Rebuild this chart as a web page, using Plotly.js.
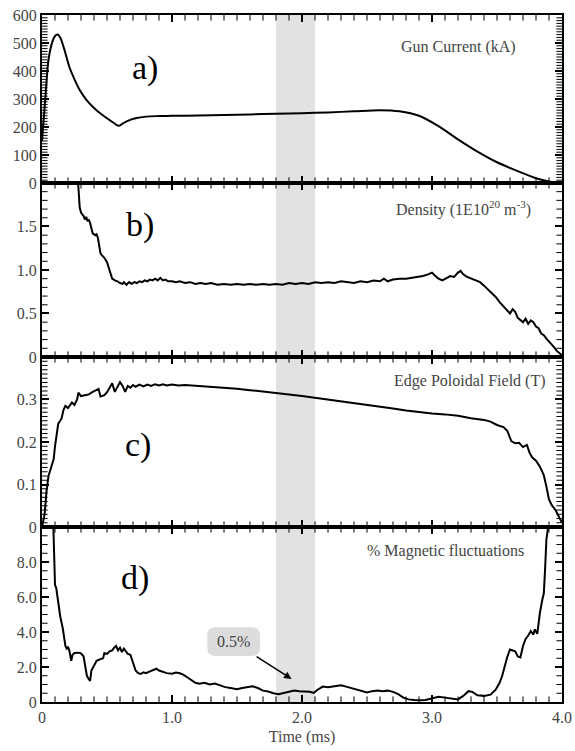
<!DOCTYPE html>
<html><head><meta charset="utf-8">
<script src="https://cdn.plot.ly/plotly-3.0.1.min.js"></script>
<style>html,body{margin:0;padding:0;background:#fff;}</style>
</head><body><div id="chart"></div>
<script>
// a) Gun current (kA)
const gunT = [0, 0.025, 0.05, 0.08, 0.10, 0.12, 0.14, 0.17, 0.21, 0.25, 0.29, 0.34, 0.40, 0.45, 0.50, 0.55, 0.59, 0.62, 0.66, 0.72, 0.80, 0.90, 1.0, 1.2, 1.4, 1.6, 1.8, 2.0, 2.2, 2.4, 2.6, 2.75, 2.9, 3.05, 3.2, 3.35, 3.5, 3.65, 3.8, 3.9, 3.97];
const gunI = [150, 300, 440, 505, 525, 530, 520, 480, 415, 370, 332, 298, 268, 248, 231, 215, 204, 212, 222, 231, 237, 239, 240, 241, 243, 245, 247, 249, 252, 256, 260, 256, 240, 203, 156, 112, 74, 44, 17, 5, 0];

// b) Density (1E10^20 m^-3)
const denT = [0.20,0.27,0.28,0.29,0.30,0.32,0.33,0.34,0.35,0.36,0.37,0.38,0.39,0.41,0.42,0.43,0.44,0.45,0.46,0.48,0.50,0.51,0.52,0.53,0.54,0.56,0.58,0.60,0.62,0.63,0.65,0.67,0.69,0.71,0.73,0.75,0.77,0.79,0.81,0.83,0.85,0.87,0.89,0.91,0.93,0.95,0.97,1.00,1.03,1.06,1.10,1.14,1.18,1.22,1.26,1.30,1.35,1.40,1.45,1.50,1.55,1.60,1.65,1.70,1.75,1.80,1.85,1.90,1.95,2.00,2.05,2.10,2.15,2.20,2.25,2.30,2.35,2.40,2.45,2.50,2.55,2.60,2.63,2.66,2.70,2.75,2.80,2.85,2.90,2.93,2.97,3.00,3.02,3.05,3.08,3.11,3.14,3.17,3.20,3.22,3.24,3.27,3.30,3.33,3.37,3.40,3.43,3.46,3.49,3.52,3.55,3.58,3.60,3.62,3.64,3.66,3.68,3.70,3.72,3.74,3.76,3.78,3.80,3.82,3.84,3.86,3.88,3.90,3.92,3.94,3.96,3.98,4.00];
const denV = [3.0,2.2,1.95,1.72,1.66,1.62,1.58,1.61,1.56,1.58,1.54,1.47,1.42,1.40,1.41,1.37,1.28,1.19,1.17,1.14,1.09,1.04,0.98,0.93,0.90,0.88,0.87,0.85,0.84,0.86,0.83,0.86,0.84,0.86,0.85,0.87,0.86,0.88,0.87,0.89,0.88,0.90,0.88,0.91,0.88,0.89,0.87,0.87,0.86,0.87,0.85,0.86,0.84,0.85,0.84,0.85,0.83,0.84,0.83,0.84,0.83,0.84,0.83,0.84,0.83,0.84,0.83,0.85,0.84,0.85,0.84,0.86,0.85,0.86,0.85,0.87,0.86,0.85,0.87,0.86,0.88,0.87,0.90,0.87,0.89,0.90,0.90,0.91,0.92,0.93,0.95,0.97,0.94,0.90,0.88,0.91,0.93,0.92,0.97,0.99,0.95,0.92,0.90,0.88,0.86,0.82,0.78,0.74,0.69,0.63,0.58,0.53,0.50,0.55,0.52,0.45,0.43,0.40,0.44,0.38,0.42,0.40,0.35,0.33,0.27,0.25,0.21,0.18,0.14,0.11,0.07,0.04,0.02];

// c) Edge Poloidal Field (T)
const bpT = [0.00,0.02,0.035,0.05,0.07,0.09,0.10,0.113,0.125,0.14,0.15,0.165,0.18,0.20,0.215,0.23,0.25,0.27,0.28,0.30,0.33,0.36,0.39,0.42,0.435,0.45,0.48,0.50,0.52,0.54,0.56,0.58,0.60,0.62,0.64,0.66,0.68,0.70,0.72,0.75,0.78,0.81,0.84,0.87,0.90,0.93,0.96,1.00,1.05,1.10,1.20,1.30,1.40,1.50,1.60,1.70,1.80,1.90,2.00,2.10,2.20,2.30,2.40,2.50,2.60,2.70,2.80,2.90,3.00,3.10,3.20,3.30,3.40,3.45,3.50,3.55,3.58,3.61,3.64,3.67,3.70,3.73,3.75,3.77,3.80,3.83,3.86,3.88,3.90,3.92,3.95,3.98,4.00];
const bpV = [0.0,0.03,0.085,0.12,0.14,0.16,0.19,0.215,0.243,0.25,0.255,0.275,0.285,0.28,0.288,0.293,0.287,0.30,0.316,0.308,0.31,0.312,0.318,0.322,0.325,0.307,0.31,0.317,0.328,0.338,0.318,0.33,0.341,0.332,0.318,0.332,0.328,0.334,0.330,0.335,0.331,0.335,0.332,0.336,0.333,0.336,0.333,0.335,0.333,0.334,0.332,0.330,0.327,0.325,0.322,0.319,0.315,0.312,0.308,0.304,0.300,0.296,0.291,0.287,0.283,0.279,0.274,0.270,0.267,0.265,0.262,0.256,0.252,0.248,0.240,0.235,0.226,0.202,0.197,0.198,0.188,0.193,0.175,0.164,0.156,0.142,0.122,0.095,0.065,0.052,0.04,0.022,0.01];

// d) % Magnetic fluctuations
const mfT = [0.08,0.09,0.10,0.11,0.12,0.14,0.16,0.17,0.18,0.19,0.20,0.21,0.225,0.235,0.25,0.28,0.30,0.32,0.33,0.345,0.36,0.37,0.38,0.40,0.42,0.45,0.47,0.48,0.50,0.52,0.54,0.555,0.57,0.585,0.60,0.615,0.63,0.645,0.66,0.68,0.70,0.72,0.74,0.76,0.78,0.80,0.83,0.86,0.88,0.90,0.93,0.96,1.00,1.03,1.06,1.09,1.12,1.15,1.18,1.21,1.25,1.29,1.33,1.37,1.41,1.45,1.50,1.54,1.58,1.62,1.66,1.70,1.74,1.78,1.82,1.86,1.90,1.94,1.98,2.02,2.06,2.09,2.12,2.16,2.20,2.25,2.30,2.34,2.38,2.42,2.46,2.50,2.54,2.58,2.62,2.66,2.70,2.74,2.78,2.82,2.86,2.90,2.95,3.00,3.05,3.10,3.15,3.20,3.24,3.28,3.31,3.35,3.40,3.45,3.49,3.52,3.54,3.56,3.58,3.60,3.62,3.64,3.66,3.68,3.70,3.72,3.74,3.76,3.78,3.79,3.81,3.83,3.85,3.86,3.87,3.88,3.89,3.90,3.92];
const mfV = [12,9.0,6.7,6.5,5.9,4.9,4.2,3.6,3.2,3.05,3.15,2.95,2.35,2.7,2.8,2.82,2.78,2.6,2.1,1.5,1.3,1.2,1.8,2.1,2.35,2.45,2.5,2.8,2.75,2.9,2.95,3.1,3.2,2.95,3.1,2.85,3.05,2.9,2.75,2.7,2.3,1.8,1.65,1.6,1.7,1.65,1.75,1.85,1.9,1.8,1.72,1.65,1.62,1.68,1.64,1.55,1.4,1.25,1.1,1.05,1.1,1.0,1.05,0.95,0.85,0.8,0.73,0.8,0.85,0.9,0.8,0.65,0.6,0.5,0.45,0.52,0.62,0.66,0.62,0.6,0.58,0.52,0.7,0.88,0.85,0.9,0.95,0.88,0.8,0.7,0.62,0.55,0.62,0.66,0.62,0.65,0.58,0.45,0.25,0.15,0.12,0.1,0.12,0.2,0.3,0.25,0.18,0.15,0.35,0.62,0.58,0.38,0.35,0.42,0.7,1.1,1.5,2.1,2.6,3.0,2.95,2.9,2.6,2.55,3.2,3.6,3.8,4.05,3.85,4.15,3.9,5.1,5.9,6.2,7.6,9.3,9.8,10.5,12];

const xTickVals = [0, 1, 2, 3, 4];
const xTickText = ['0', '1.0', '2.0', '3.0', '4.0'];
const aTickVals = [0, 100, 200, 300, 400, 500, 600];
const aTickText = ['0', '100', '200', '300', '400', '500', '600'];
const bTickVals = [0, 0.5, 1.0, 1.5];
const bTickText = ['0', '0.5', '1.0', '1.5'];
const cTickVals = [0, 0.1, 0.2, 0.3];
const cTickText = ['0', '0.1', '0.2', '0.3'];
const dTickVals = [0, 2, 4, 6, 8];
const dTickText = ['0', '2.0', '4.0', '6.0', '8.0'];

const FONT = 'Liberation Serif';
const TXT = '#444';
const lineStyle = {color: '#000', width: 2};

const traces = [
  {x: gunT, y: gunI, xaxis: 'x', yaxis: 'y', mode: 'lines', line: Object.assign({shape: 'spline', smoothing: 0.8}, lineStyle)},
  {x: denT, y: denV, xaxis: 'x2', yaxis: 'y2', mode: 'lines', line: lineStyle},
  {x: bpT, y: bpV, xaxis: 'x3', yaxis: 'y3', mode: 'lines', line: lineStyle},
  {x: mfT, y: mfV, xaxis: 'x4', yaxis: 'y4', mode: 'lines', line: lineStyle}
];

// Minor tick marks: short line markers on the panel edges, clipped to each panel
const panels = [
  {xr: 'x', yr: 'y', top: 600, step: 10},
  {xr: 'x2', yr: 'y2', top: 2, step: 0.1},
  {xr: 'x3', yr: 'y3', top: 0.4, step: 0.01},
  {xr: 'x4', yr: 'y4', top: 10, step: 0.5}
];
panels.forEach(p => {
  const n = Math.round(p.top / p.step);
  const yx = [], yy = [];
  for (let i = 1; i < n; i++) { yx.push(0, 4); yy.push(i * p.step, i * p.step); }
  traces.push({x: yx, y: yy, xaxis: p.xr, yaxis: p.yr, mode: 'markers', hoverinfo: 'skip', cliponaxis: true,
    marker: {symbol: 'line-ew', size: 8, color: '#000', line: {color: '#000', width: 1}}});
  const xx = [], xy = [];
  for (let i = 1; i < 40; i++) { xx.push(i * 0.1, i * 0.1); xy.push(0, p.top); }
  traces.push({x: xx, y: xy, xaxis: p.xr, yaxis: p.yr, mode: 'markers', hoverinfo: 'skip', cliponaxis: true,
    marker: {symbol: 'line-ns', size: 8, color: '#000', line: {color: '#000', width: 1}}});
});

function ax(extra) {
  return Object.assign({
    showline: true, linecolor: '#000', linewidth: 2, mirror: 'allticks',
    ticks: 'inside', ticklen: 7, tickwidth: 1.5, tickcolor: '#000',
    showgrid: false, zeroline: false, tickmode: 'array',
    tickfont: {family: FONT, size: 16, color: TXT}
  }, extra);
}
const D = [0, 0.2547, 0.5022, 0.7555, 1];

const layout = {
  width: 575, height: 751,
  margin: {l: 42, r: 13, t: 15, b: 49},
  showlegend: false,
  font: {family: FONT, size: 16, color: TXT},
  xaxis: ax({anchor: 'y', range: [0, 4], tickvals: xTickVals, ticktext: xTickText, showticklabels: false}),
  xaxis2: ax({anchor: 'y2', range: [0, 4], tickvals: xTickVals, ticktext: xTickText, showticklabels: false}),
  xaxis3: ax({anchor: 'y3', range: [0, 4], tickvals: xTickVals, ticktext: xTickText, showticklabels: false}),
  xaxis4: ax({anchor: 'y4', range: [0, 4], tickvals: xTickVals, ticktext: xTickText, showticklabels: true,
    title: {text: 'Time (ms)', font: {family: FONT, size: 16, color: TXT}, standoff: 6}}),
  yaxis: ax({domain: [D[3], D[4]], range: [0, 600], tickvals: aTickVals, ticktext: aTickText, anchor: 'x'}),
  yaxis2: ax({domain: [D[2], D[3]], range: [0, 2], tickvals: bTickVals, ticktext: bTickText, anchor: 'x2'}),
  yaxis3: ax({domain: [D[1], D[2]], range: [0, 0.4], tickvals: cTickVals, ticktext: cTickText, anchor: 'x3'}),
  yaxis4: ax({domain: [D[0], D[1]], range: [0, 10], tickvals: dTickVals, ticktext: dTickText, anchor: 'x4'}),
  shapes: [
    {type: 'rect', xref: 'x', yref: 'paper', x0: 1.8, x1: 2.1, y0: 0, y1: 1, fillcolor: '#e2e2e2', line: {width: 0}, layer: 'below'},
    {type: 'path', xref: 'x4', yref: 'y4', layer: 'below', fillcolor: '#dcdcdc', line: {width: 0},
     path: 'M1.334,4.27 L1.615,4.27 Q1.677,4.27 1.677,3.81 L1.677,3.09 Q1.677,2.63 1.615,2.63 L1.334,2.63 Q1.272,2.63 1.272,3.09 L1.272,3.81 Q1.272,4.27 1.334,4.27 Z'}
  ],
  annotations: [
    {text: 'a)', xref: 'x', yref: 'y', x: 0.79, y: 411, showarrow: false, font: {family: FONT, size: 34, color: '#000'}},
    {text: 'b)', xref: 'x2', yref: 'y2', x: 0.75, y: 1.515, showarrow: false, font: {family: FONT, size: 34, color: '#000'}},
    {text: 'c)', xref: 'x3', yref: 'y3', x: 0.74, y: 0.193, showarrow: false, font: {family: FONT, size: 34, color: '#000'}},
    {text: 'd)', xref: 'x4', yref: 'y4', x: 0.715, y: 7.07, showarrow: false, font: {family: FONT, size: 34, color: '#000'}},
    {text: 'Gun Current (kA)', xref: 'x', yref: 'y', x: 3.20, y: 487, showarrow: false, font: {family: FONT, size: 16, color: TXT}},
    {text: 'Density (1E10<sup>20</sup> m<sup>-3</sup>)', xref: 'x2', yref: 'y2', x: 3.245, y: 1.71, showarrow: false, font: {family: FONT, size: 16, color: TXT}},
    {text: 'Edge Poloidal Field (T)', xref: 'x3', yref: 'y3', x: 3.29, y: 0.343, showarrow: false, font: {family: FONT, size: 16, color: TXT}},
    {text: '% Magnetic fluctuations', xref: 'x4', yref: 'y4', x: 3.10, y: 8.64, showarrow: false, font: {family: FONT, size: 16, color: TXT}},
    {text: '0.5%', xref: 'x4', yref: 'y4', x: 1.92, y: 1.32, showarrow: true, ax: -58, ay: -37,
      arrowhead: 2, arrowsize: 1, arrowwidth: 1.5, arrowcolor: '#000', borderpad: 6,
      font: {family: FONT, size: 16, color: TXT}}
  ]
};

Plotly.newPlot('chart', traces, layout, {displayModeBar: false});
</script>
</body></html>
